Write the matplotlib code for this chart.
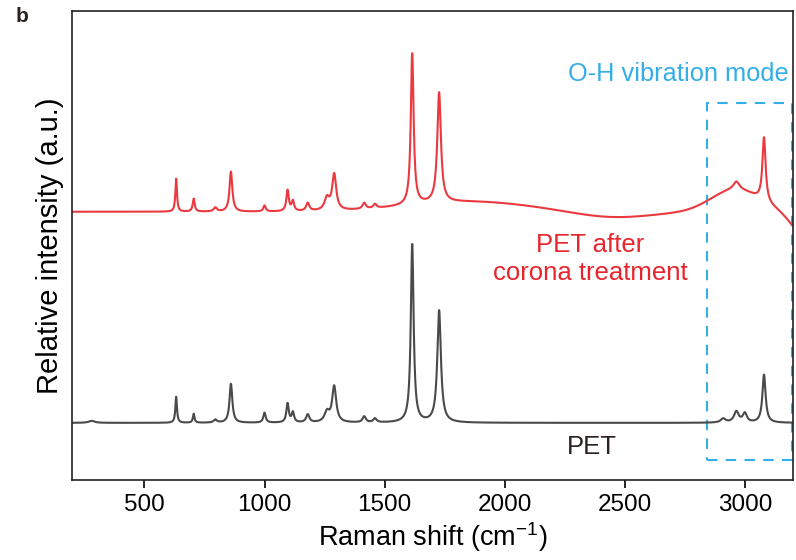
import matplotlib.pyplot as plt
import numpy as np

plt.rcParams['font.family'] = ['Liberation Sans', 'DejaVu Sans']

# peak components: centre (cm-1), height (a.u.), half width (cm-1)
pet_centres = [280, 632, 705, 795, 860, 1000, 1096, 1118, 1180, 1260, 1290, 1415, 1460, 1615, 1727, 2910, 2965, 3000, 3080]
pet_heights = [2, 26, 9, 3, 39, 10, 19, 10, 8, 10, 36, 6, 4, 178, 112, 4, 11, 9, 48]
pet_widths = [15, 4, 4, 8, 7, 6, 6, 6, 8, 12, 10, 8, 8, 7, 9, 12, 12, 10, 8]

treated_centres = [632, 705, 795, 860, 1000, 1096, 1118, 1180, 1260, 1290, 1415, 1460, 1615, 1727, 2965, 3080]
treated_heights = [33, 13, 4, 40, 6, 21, 10, 8, 12, 36, 6, 4, 151, 110, 8, 64]
treated_widths = [4, 5, 8, 7, 6, 6, 6, 8, 12, 10, 8, 8, 7, 9, 15, 8]

# broad background bands of the treated sample: centre, height, sigma
band_centres = [1850, 2450, 2960, 3260]
band_heights = [10, -6, 22, -26]
band_sigmas = [260, 160, 100, 60]

offset = 211

shift = np.arange(200, 3201, 1.0)


def lorentz_sum(x, c, h, w):
    y = np.zeros_like(x)
    for ci, hi, wi in zip(c, h, w):
        y += hi * wi**2 / ((x - ci)**2 + wi**2)
    return y


def gauss_sum(x, c, h, s):
    y = np.zeros_like(x)
    for ci, hi, si in zip(c, h, s):
        y += hi * np.exp(-(x - ci)**2 / (2 * si**2))
    return y


pet = lorentz_sum(shift, pet_centres, pet_heights, pet_widths)
treated = offset + lorentz_sum(shift, treated_centres, treated_heights, treated_widths) \
    + gauss_sum(shift, band_centres, band_heights, band_sigmas)

fig = plt.figure(figsize=(7.96, 5.6), dpi=100)
ax = fig.add_axes([0.091, 0.143, 0.905, 0.838])

ax.plot(shift, treated, color='#ea3a40', lw=1.5)
ax.plot(shift, pet, color='#4a4a4a', lw=1.5)

ax.set_xlim(200, 3200)
ax.set_ylim(-57, 412)
ax.set_yticks([])
ax.set_xticks([500, 1000, 1500, 2000, 2500, 3000])
ax.tick_params(axis='x', labelsize=17.5, length=6, width=1.2, direction='out', pad=4)
for s in ax.spines.values():
    s.set_linewidth(1.2)
    s.set_color('#222222')

ax.set_xlabel('Raman shift (cm$^{\\mathregular{-1}}$)', fontsize=19.5, labelpad=3)
ax.set_ylabel('Relative intensity (a.u.)', fontsize=21, labelpad=6)

# dashed box around the O-H region
ax.add_patch(plt.Rectangle((2843, -37), 355, 357, fill=False, ls=(0, (5, 4)),
                           lw=1.5, ec='#33aee6', clip_on=False))
ax.text(2722, 349, 'O-H vibration mode', color='#33aee6', fontsize=18.3,
        ha='center', va='center')
ax.text(2355, 178, 'PET after', color='#e8242c', fontsize=18.5,
        ha='center', va='center')
ax.text(2355, 150, 'corona treatment', color='#e8242c', fontsize=18.5,
        ha='center', va='center')
ax.text(2364, -24, 'PET', color='#2a2220', fontsize=18.5, ha='center', va='center')

fig.text(0.019, 0.96, 'b', fontsize=15, fontweight='bold', color='#2a2220')

fig.savefig('out.png', dpi=100)
